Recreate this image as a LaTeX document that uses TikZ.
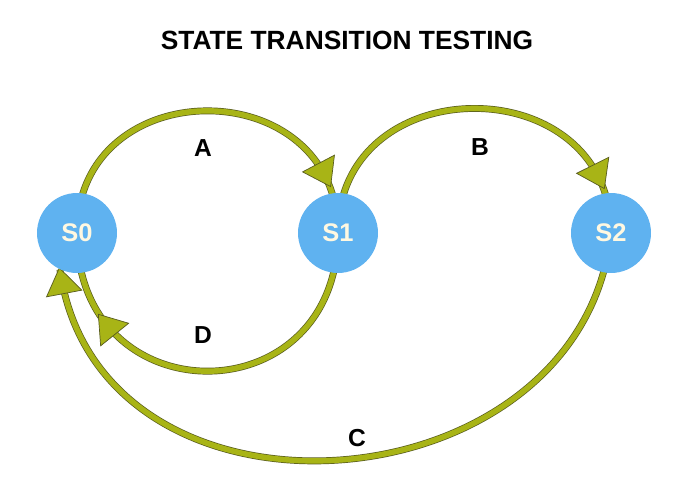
\documentclass[tikz,border=0pt]{standalone}
\usepackage{fontspec}
\setmainfont{Liberation Sans}
\usetikzlibrary{decorations.markings, backgrounds}

\definecolor{stateblue}{RGB}{95,178,240}
\definecolor{arcolive}{RGB}{168,180,22}
\definecolor{arcdark}{RGB}{88,92,30}
\definecolor{labelcream}{RGB}{255,248,225}

\tikzset{
    state/.style = {circle, fill = stateblue, minimum size = 1.6cm, inner sep = 0pt,
        text = labelcream, font = \bfseries\fontsize{14.5}{15}\selectfont},
    translabel/.style = {font = \bfseries\fontsize{14}{15}\selectfont},
    trans/.style = {draw = arcolive, line width = 3.1pt,
        preaction = {draw = arcdark, line width = 3.9pt}},
    tip at/.style = {postaction = {decorate, decoration = {markings,
        mark = at position #1 with {\draw[arcdark, fill = arcolive, line width = 0.4pt, line join = miter]
            (13,0) -- (-13,18) -- (-13,-18) -- cycle;}}}}
}

\begin{document}
\begin{tikzpicture}[x = 0.02cm, y = 0.02cm]
    \useasboundingbox (0,0) rectangle (700,497);

    \node[font = \bfseries\fontsize{15}{16}\selectfont] (title) at (347,457) {STATE TRANSITION TESTING};

    % states
    \node[state] (s0) at (77,264) {S0};
    \node[state] (s1) at (338,264) {S1};
    \node[state] (s2) at (611,264) {S2};

    % transitions
    \begin{scope}[on background layer]
        \fill[white] (0,0) rectangle (700,497);
        \draw[trans, tip at = 0.85] (s0.center) to[out = 90, in = 90, looseness = 1.6] (s1.center);
        \draw[trans, tip at = 0.86] (s1.center) to[out = 90, in = 90, looseness = 1.56] (s2.center);
        \draw[trans, tip at = 0.77] (s1.center) to[out = -90, in = -90, looseness = 1.81] (s0.center);
        \draw[trans, tip at = 0.985] (s2.center) to[out = -96, in = -82, looseness = 1.3] (s0.245);
    \end{scope}

    \node[translabel] (lblA) at (203,349) {A};
    \node[translabel] (lblB) at (480,350) {B};
    \node[translabel] (lblC) at (357,59) {C};
    \node[translabel] (lblD) at (203,162) {D};
\end{tikzpicture}
\end{document}
